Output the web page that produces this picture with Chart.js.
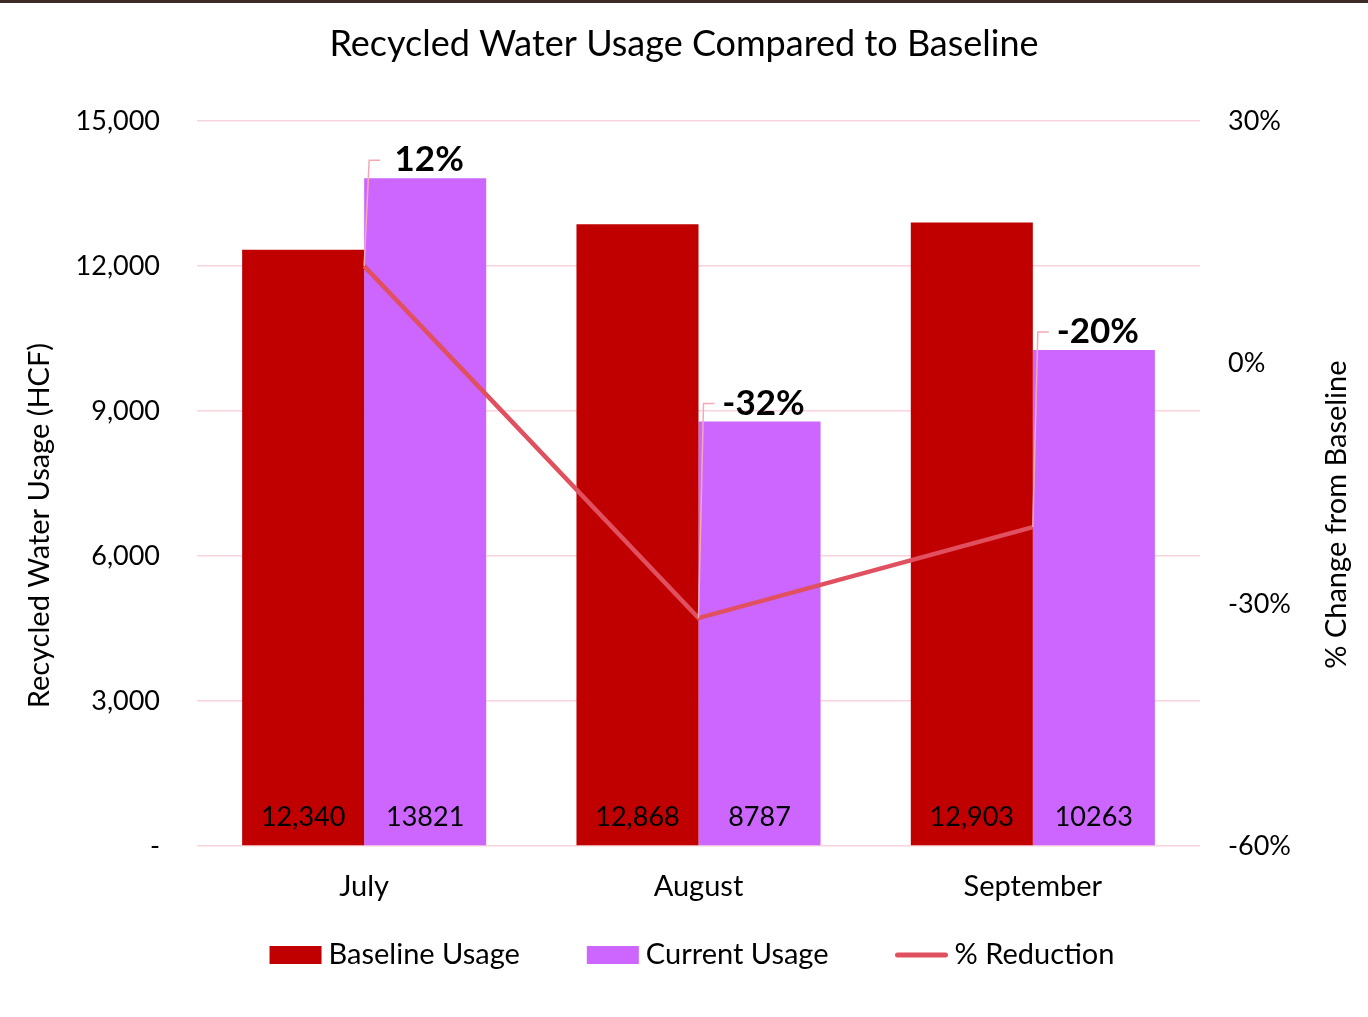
<!DOCTYPE html>
<html lang="en">
<head>
    <meta charset="UTF-8">
    <title>Recycled Water Usage Compared to Baseline</title>
    <script src="https://cdn.jsdelivr.net/npm/chart.js"></script>
    <style>
        body {
            margin: 0;
            background-color: #ffffff;
            border-top: 3px solid #3b2b27;
        }
        #chart-container {
            width: 1368px;
            height: 1014px;
        }
    </style>
</head>
<body>
    <div id="chart-container">
        <canvas id="chart"></canvas>
    </div>

    <script>
        const months = ['July', 'August', 'September'];
        const baselineUsage = [12340, 12868, 12903];
        const currentUsage = [13821, 8787, 10263];
        const pctReduction = [12.0, -31.7, -20.4];

        const seriesNames = ['Baseline Usage', 'Current Usage', '% Reduction'];
        const seriesColors = ['#C00000', '#CC66FF', '#E0505E'];
        const leftTitle = 'Recycled Water Usage (HCF)';
        const rightTitle = '% Change from Baseline';

        const FONT = 'Lato, "Open Sans", sans-serif';

        // value labels at the bottom of bars + % labels with leader lines
        const labelPlugin = {
            id: 'labels',
            afterDatasetsDraw(chart) {
                const ctx = chart.ctx;
                const area = chart.chartArea;
                ctx.save();
                ctx.fillStyle = '#000';
                ctx.textAlign = 'center';
                ctx.textBaseline = 'middle';
                ctx.font = '27px ' + FONT;
                chart.getDatasetMeta(0).data.forEach((bar, i) => {
                    ctx.fillText(baselineUsage[i].toLocaleString('en-US'), bar.x, area.bottom - 29);
                });
                chart.getDatasetMeta(1).data.forEach((bar, i) => {
                    ctx.fillText(String(currentUsage[i]), bar.x, area.bottom - 29);
                });

                const curBars = chart.getDatasetMeta(1).data;
                chart.getDatasetMeta(2).data.forEach((pt, i) => {
                    const bar = curBars[i];
                    const ly = bar.y - 18;
                    ctx.strokeStyle = '#F4A9B4';
                    ctx.lineWidth = 1.5;
                    ctx.beginPath();
                    ctx.moveTo(pt.x, pt.y);
                    ctx.lineTo(pt.x + 5, ly);
                    ctx.lineTo(pt.x + 16, ly);
                    ctx.stroke();
                    ctx.font = 'bold 35px ' + FONT;
                    ctx.fillStyle = '#000';
                    ctx.fillText(Math.round(pctReduction[i]) + '%', bar.x + 4, ly);
                });
                ctx.restore();
            }
        };

        // axis titles (both read bottom-to-top) and legend
        const extrasPlugin = {
            id: 'extras',
            afterDraw(chart) {
                const ctx = chart.ctx;
                const area = chart.chartArea;
                const midY = (area.top + area.bottom) / 2;
                ctx.save();
                ctx.fillStyle = '#000';
                ctx.textAlign = 'center';
                ctx.textBaseline = 'middle';
                ctx.font = '29px ' + FONT;

                ctx.save();
                ctx.translate(40, midY + 42);
                ctx.rotate(-Math.PI / 2);
                ctx.fillText(leftTitle, 0, 0);
                ctx.restore();

                ctx.save();
                ctx.translate(1337, midY + 31);
                ctx.rotate(-Math.PI / 2);
                ctx.fillText(rightTitle, 0, 0);
                ctx.restore();

                // legend
                ctx.font = '29px ' + FONT;
                const boxW = 52, gapText = 7, gapItem = 67;
                const widths = seriesNames.map(t => ctx.measureText(t).width);
                const total = widths.reduce((a, w) => a + boxW + gapText + w, 0) + gapItem * 2;
                let x = 692 - total / 2;
                const ly = 952;
                ctx.textAlign = 'left';
                seriesNames.forEach((name, i) => {
                    if (i < 2) {
                        ctx.fillStyle = seriesColors[i];
                        ctx.fillRect(x, ly - 9, boxW, 18);
                    } else {
                        ctx.strokeStyle = seriesColors[i];
                        ctx.lineWidth = 5;
                        ctx.lineCap = 'round';
                        ctx.beginPath();
                        ctx.moveTo(x + 2, ly);
                        ctx.lineTo(x + boxW - 2, ly);
                        ctx.stroke();
                    }
                    ctx.fillStyle = '#000';
                    ctx.fillText(name, x + boxW + gapText, ly);
                    x += boxW + gapText + widths[i] + gapItem;
                });
                ctx.restore();
            }
        };

        const chart = new Chart(document.getElementById('chart'), {
            data: {
                labels: months,
                datasets: [
                    {
                        type: 'bar',
                        label: seriesNames[0],
                        data: baselineUsage,
                        backgroundColor: seriesColors[0],
                        yAxisID: 'y',
                        order: 2,
                        barPercentage: 1.0,
                        categoryPercentage: 0.73
                    },
                    {
                        type: 'bar',
                        label: seriesNames[1],
                        data: currentUsage,
                        backgroundColor: seriesColors[1],
                        yAxisID: 'y',
                        order: 2,
                        barPercentage: 1.0,
                        categoryPercentage: 0.73
                    },
                    {
                        type: 'line',
                        label: seriesNames[2],
                        data: pctReduction,
                        borderColor: seriesColors[2],
                        borderWidth: 4.5,
                        pointRadius: 0,
                        tension: 0,
                        yAxisID: 'y1',
                        order: 1
                    }
                ]
            },
            options: {
                responsive: true,
                maintainAspectRatio: false,
                animation: false,
                layout: { padding: { left: 0, right: 0, top: 12, bottom: 111 } },
                plugins: {
                    tooltip: { enabled: false },
                    legend: { display: false },
                    title: {
                        display: true,
                        text: 'Recycled Water Usage Compared to Baseline',
                        color: '#000',
                        font: { family: FONT, size: 36, weight: 'normal' },
                        padding: { top: 8, bottom: 55 }
                    }
                },
                scales: {
                    x: {
                        grid: { display: false },
                        border: { display: false },
                        ticks: { color: '#000', font: { family: FONT, size: 29 }, padding: 15 },
                        afterFit(scale) { scale.height = 60; }
                    },
                    y: {
                        position: 'left',
                        min: 0,
                        max: 15000,
                        border: { display: false },
                        grid: { color: '#FAD4DC', lineWidth: 1.5, drawTicks: false },
                        ticks: {
                            stepSize: 3000,
                            color: '#000',
                            padding: 37,
                            font: { family: FONT, size: 27 },
                            callback: v => v === 0 ? '-' : v.toLocaleString('en-US')
                        },
                        afterFit(scale) { scale.width = 197; }
                    },
                    y1: {
                        position: 'right',
                        min: -60,
                        max: 30,
                        border: { display: false },
                        grid: { display: false, drawTicks: false },
                        ticks: {
                            stepSize: 30,
                            color: '#000',
                            padding: 28,
                            font: { family: FONT, size: 27 },
                            callback: v => v + '%'
                        },
                        afterFit(scale) { scale.width = 168; }
                    }
                }
            },
            plugins: [labelPlugin, extrasPlugin]
        });
    </script>
</body>
</html>
